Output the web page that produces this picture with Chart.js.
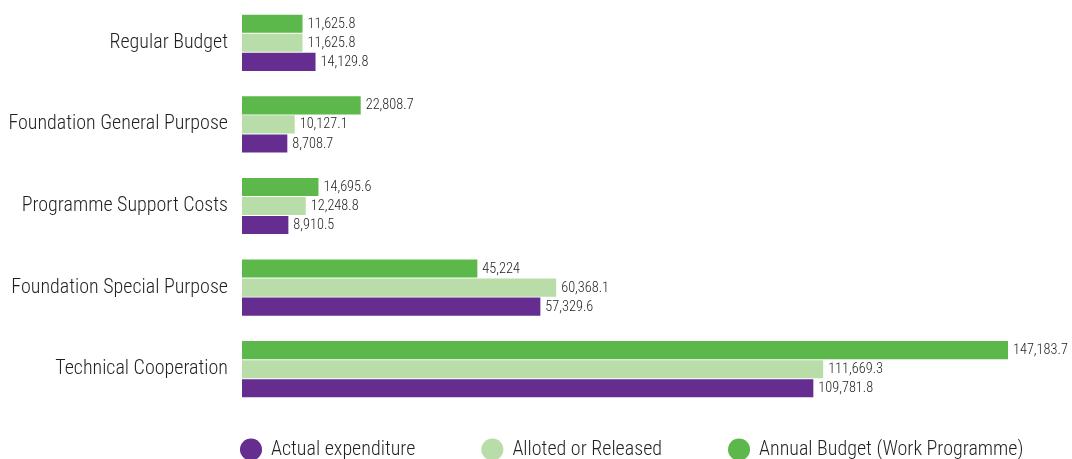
<!DOCTYPE html>
<html><head><meta charset="utf-8">
<script src="https://cdn.jsdelivr.net/npm/chart.js@4/dist/chart.umd.min.js"></script>
<style>
html,body{margin:0;padding:0;background:#fff;overflow:hidden;width:1072px;height:459px;}
#wrap{position:absolute;left:0;top:0;width:1072px;height:459px;}
</style></head>
<body>
<div id="wrap"><canvas id="c"></canvas></div>
<script>
const categories = ["Regular Budget","Foundation General Purpose","Programme Support Costs","Foundation Special Purpose","Technical Cooperation"];
const annualBudget = [11625.8, 22808.7, 14695.6, 45224, 147183.7];
const allotedReleased = [11625.8, 10127.1, 12248.8, 60368.1, 111669.3];
const actualExpenditure = [14129.8, 8708.7, 8910.5, 57329.6, 109781.8];
const seriesNames = ["Annual Budget (Work Programme)","Alloted or Released","Actual expenditure"];

const FONT = "'Roboto Condensed','Roboto',sans-serif";
const TEXT = '#231f20';
const fmt = v => v.toLocaleString('en-US',{maximumFractionDigits:1});

const LEG_PAD = 67, LEG_FONT = 20, LEG_CY = 449.5, LEG_X0 = 241, LEG_H = 49;

const valueLabels = {
  id:'valueLabels',
  afterDatasetsDraw(chart){
    const ctx = chart.ctx;
    ctx.save();
    ctx.font = "300 14.3px " + FONT;
    ctx.fillStyle = '#1e1e1e';
    ctx.textBaseline = "middle";
    ctx.textAlign = "left";
    chart.data.datasets.forEach((ds,i)=>{
      const meta = chart.getDatasetMeta(i);
      meta.data.forEach((bar,j)=>{
        ctx.fillText(fmt(ds.data[j]), bar.x + 5, bar.y + 0.5);
      });
    });
    ctx.restore();
  }
};

const legendPlace = {
  id:'legendPlace',
  beforeInit(chart){
    const lg = chart.legend;
    if (!lg) return;
    const origFit = lg.fit;
    lg.fit = function(){ origFit.call(this); this.height = LEG_H; };
  },
  afterLayout(chart){
    const lg = chart.legend;
    if (!lg) return;
    const lw = lg.lineWidths[0];
    const startX = (lg.left + LEG_PAD + lg.right - lw) / 2;
    const shift = LEG_X0 - startX;
    lg.left += shift;
    lg.right += shift;
    lg.top = LEG_CY - LEG_PAD - LEG_FONT/2;
    lg.bottom = lg.top + 200;
  }
};

new Chart(document.getElementById('c'),{
  type:'bar',
  data:{
    labels:categories,
    datasets:[
      {label:seriesNames[0], data:annualBudget, backgroundColor:'#5cb84a'},
      {label:seriesNames[1], data:allotedReleased, backgroundColor:'#b9dda8'},
      {label:seriesNames[2], data:actualExpenditure, backgroundColor:'#642d8f'}
    ]
  },
  options:{
    indexAxis:'y',
    responsive:true,
    maintainAspectRatio:false,
    animation:false,
    categoryPercentage:0.7,
    barPercentage:0.95,
    layout:{padding:{top:2,right:64,left:0,bottom:0}},
    scales:{
      x:{display:false,min:0,max:147183.7},
      y:{
        grid:{display:false,drawTicks:false},
        border:{display:false},
        afterFit(scale){ scale.width = 242; scale.paddingTop = 0; scale.paddingBottom = 0; },
        ticks:{font:{family:FONT,size:20,weight:'300'},color:TEXT,padding:14}
      }
    },
    plugins:{
      tooltip:{enabled:false},
      legend:{
        position:'bottom',
        reverse:true,
        labels:{
          usePointStyle:true,
          pointStyle:'circle',
          boxWidth:20,
          boxHeight:15.6,
          padding:LEG_PAD,
          color:TEXT,
          font:{family:FONT,size:LEG_FONT,weight:'300'}
        }
      }
    }
  },
  plugins:[valueLabels, legendPlace]
});
</script>
</body></html>
